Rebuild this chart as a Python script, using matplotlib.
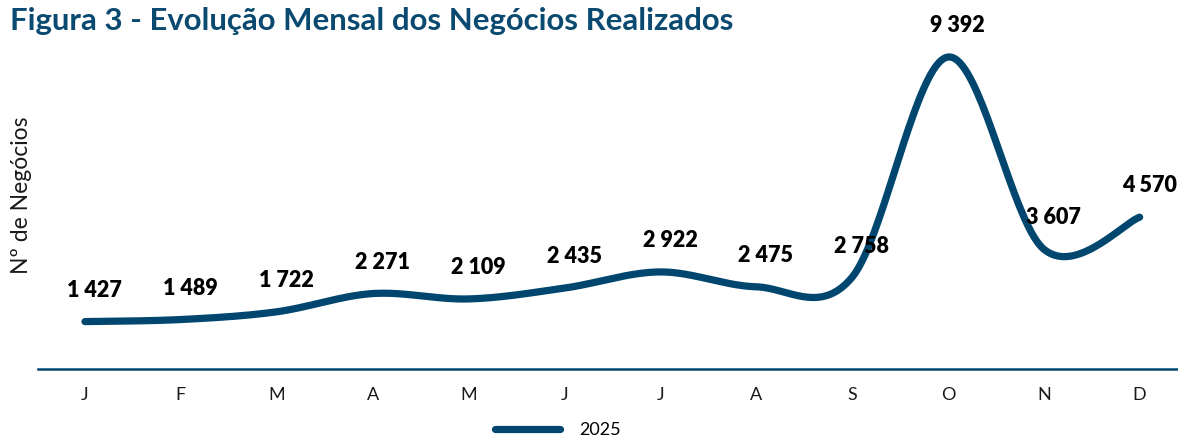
import numpy as np
import matplotlib
matplotlib.use("Agg")
import matplotlib.pyplot as plt

months = ["J", "F", "M", "A", "M", "J", "J", "A", "S", "O", "N", "D"]
negocios = [1427, 1489, 1722, 2271, 2109, 2435, 2922, 2475, 2758, 9392, 3607, 4570]
serie = "2025"

blue = "#00466f"
title_blue = "#0b4a70"

plt.rcParams["font.family"] = ["Lato", "DejaVu Sans"]


def smooth(xs, ys, n=40):
    # Catmull-Rom style smoothing (like spreadsheet "smoothed line")
    p = np.column_stack([xs, ys]).astype(float)
    out = []
    for i in range(len(p) - 1):
        p0 = p[i - 1] if i > 0 else p[i]
        p1 = p[i]
        p2 = p[i + 1]
        p3 = p[i + 2] if i + 2 < len(p) else p[i + 1]
        b1 = p1 + (p2 - p0) / 6
        b2 = p2 - (p3 - p1) / 6
        t = np.linspace(0, 1, n)[:, None]
        seg = ((1 - t) ** 3) * p1 + 3 * ((1 - t) ** 2) * t * b1 + 3 * (1 - t) * t ** 2 * b2 + t ** 3 * p2
        out.append(seg if i == 0 else seg[1:])
    out = np.vstack(out)
    return out[:, 0], out[:, 1]


fig = plt.figure(figsize=(11.78, 4.43), dpi=100)
W, H = 1178, 443
left, right, top, bottom = 38, 1178, 20, 369
ax = fig.add_axes([left / W, 1 - bottom / H, (right - left) / W, (bottom - top) / H])

x = np.arange(len(months))
sx, sy = smooth(x, negocios)
ax.plot(sx, sy, color=blue, lw=5.2, solid_capstyle="round", label=serie)

for xi, v in zip(x, negocios):
    lab = f"{v:,}".replace(",", " ")
    ax.annotate(lab, (xi, v), xytext=(7, 22.5), textcoords="offset points",
                ha="center", va="center", fontsize=15.5, fontweight="heavy", color="black")

ax.set_xlim(-0.49, 11.40)
ax.set_ylim(0, (bottom - top) / ((bottom - 57) / 9392))
ax.set_xticks(x)
ax.set_xticklabels(months, fontsize=13, color="#1a1a1a")
ax.set_yticks([])
ax.tick_params(axis="x", length=0, pad=13)
for s in ["top", "right", "left"]:
    ax.spines[s].set_visible(False)
ax.spines["bottom"].set_color(blue)
ax.spines["bottom"].set_linewidth(1.8)

fig.text(22 / W, 1 - 195 / H, "Nº de Negócios", rotation=90, ha="center", va="center",
         fontsize=16.5, color="#1a1a1a")
fig.text(10 / W, 1 - 21 / H, "Figura 3 - Evolução Mensal dos Negócios Realizados",
         ha="left", va="center", fontsize=22.4, fontweight="bold", color=title_blue)

ax.legend(loc="center", bbox_to_anchor=(558 / W, 1 - 430 / H), bbox_transform=fig.transFigure,
          frameon=False, fontsize=13, handlelength=3.6, handletextpad=1.1)

fig.savefig("out.png", dpi=100)
